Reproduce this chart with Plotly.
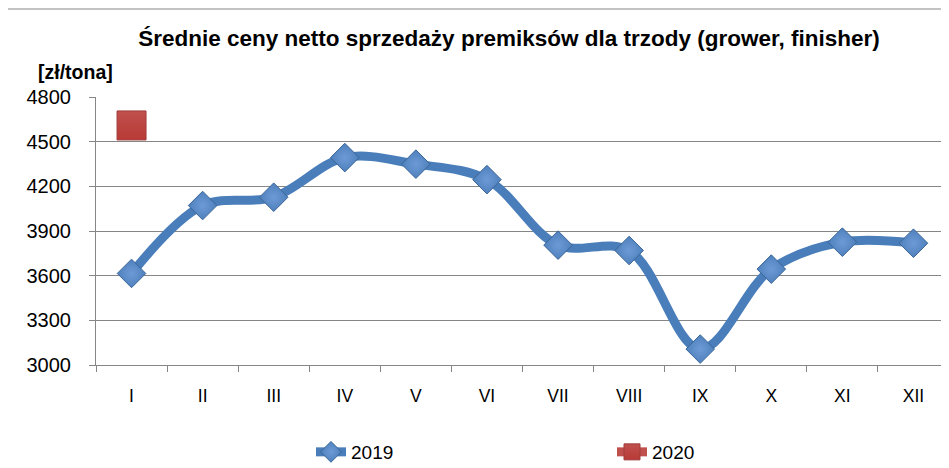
import plotly.graph_objects as go

months = ["I", "II", "III", "IV", "V", "VI", "VII", "VIII", "IX", "X", "XI", "XII"]
values_2019 = [3615, 4071, 4127, 4393, 4349, 4245, 3805, 3769, 3107, 3644, 3825, 3818]
months_2020 = ["I"]
values_2020 = [4609]
y_ticks = [3000, 3300, 3600, 3900, 4200, 4500, 4800]

title_text = "Średnie ceny netto sprzedaży premiksów dla trzody (grower, finisher)"
unit_text = "[zł/tona]"

FONT = "Liberation Sans"
OFF = 8  # page body margin
W, H = 949 - OFF, 468 - OFF
PL, PT, PW, PH = 96 - OFF, 97 - OFF, 853, 268  # plot area in figure pixels

fig = go.Figure()
fig.add_trace(go.Scatter(
    x=months, y=values_2019, name="2019", mode="lines+markers",
    line=dict(color="#4A7EBB", width=9, shape="spline", smoothing=1.0),
    marker=dict(symbol="diamond", size=22, color="#4F81BD",
                line=dict(color="#3A6596", width=1),
                gradient=dict(type="radial", color="#6D9AD6")),
))
fig.add_trace(go.Scatter(
    x=months_2020, y=values_2020, name="2020", mode="lines+markers",
    line=dict(color="#C0504D", width=9),
    marker=dict(symbol="square", size=29, color="#C0504D",
                line=dict(color="#A03C3A", width=1),
                gradient=dict(type="vertical", color="#B83A36")),
))

fig.update_layout(
    width=W, height=H,
    paper_bgcolor="white", plot_bgcolor="white",
    margin=dict(l=PL, r=W - PL - PW, t=PT, b=H - PT - PH, autoexpand=False),
    font=dict(family=FONT, size=18, color="black"),
    title=dict(text="<b>" + title_text + "</b>", font=dict(family=FONT, size=22.5, color="black"),
               x=(509 - OFF) / W, xanchor="center", xref="container",
               y=1 - (38 - OFF) / H, yanchor="middle", yref="container"),
    showlegend=True,
    legend=dict(orientation="h", x=(311 - OFF - PL) / PW, xanchor="left",
                y=-(452 - OFF - PT - PH) / PH, yanchor="middle",
                entrywidth=256, entrywidthmode="pixels",
                font=dict(family=FONT, size=19), bgcolor="rgba(0,0,0,0)"),
    xaxis=dict(type="category", categoryorder="array", categoryarray=months,
               range=[-0.5, 11.5], showgrid=False, automargin=False,
               showline=True, linecolor="#868686", linewidth=1,
               ticks="outside", tickson="boundaries", ticklen=6, tickcolor="#868686",
               tickfont=dict(family=FONT, size=17.5), ticklabelstandoff=15),
    yaxis=dict(range=[3000, 4800], tickvals=y_ticks, showgrid=True, gridcolor="#868686", gridwidth=1,
               showline=True, linecolor="#868686", linewidth=1, automargin=False,
               ticks="outside", ticklen=6, tickcolor="#868686", ticklabelstandoff=14,
               tickfont=dict(family=FONT, size=20), zeroline=False),
    annotations=[dict(text="<b>" + unit_text + "</b>", xref="paper", yref="paper",
                      x=(75 - OFF - PL) / PW, y=1 + (PT - (72 - OFF)) / PH,
                      xanchor="center", yanchor="middle",
                      showarrow=False, font=dict(family=FONT, size=19.5, color="black"))],
    shapes=[dict(type="rect", xref="paper", yref="paper",
                 x0=(7 - OFF - PL) / PW, x1=1.05, y0=-0.5, y1=1 + (PT - (9 - OFF)) / PH,
                 line=dict(color="#868686", width=1), fillcolor="rgba(0,0,0,0)", layer="below")],
)

fig.write_html("out.html")
